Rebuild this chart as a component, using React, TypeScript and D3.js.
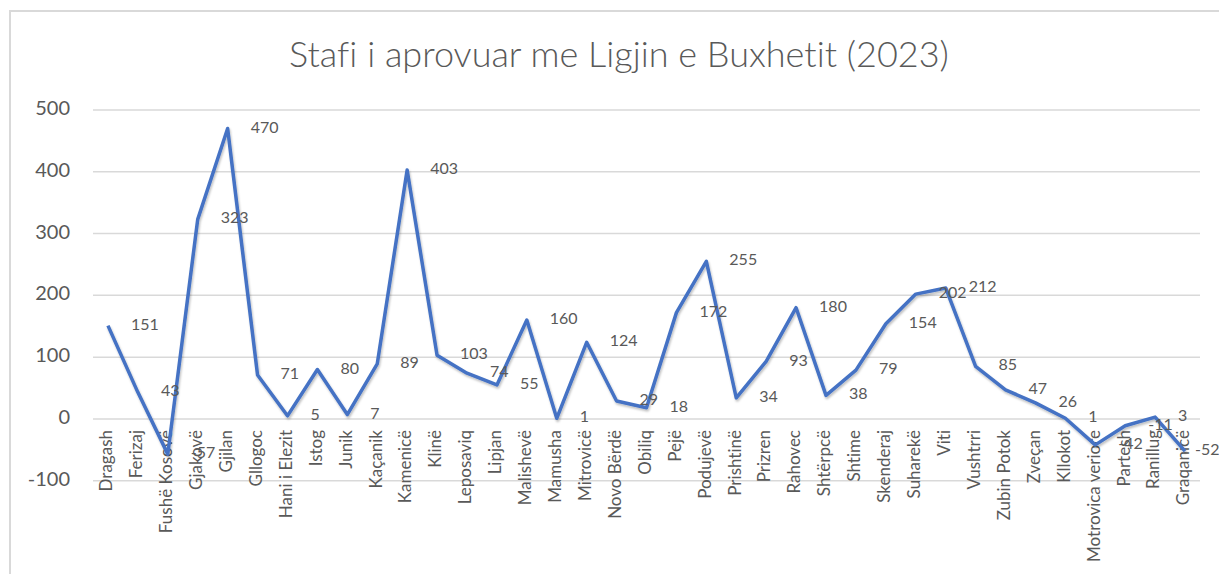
import React from 'react';
import { scaleBand, scaleLinear, line } from 'd3';

const title = 'Stafi i aprovuar me Ligjin e Buxhetit (2023)';

const municipalities = [
  'Dragash', 'Ferizaj', 'Fushë Kosovë', 'Gjakovë', 'Gjilan', 'Gllogoc', 'Hani i Elezit',
  'Istog', 'Junik', 'Kaçanik', 'Kamenicë', 'Klinë', 'Leposaviq', 'Lipjan', 'Malishevë',
  'Mamusha', 'Mitrovicë', 'Novo Bërdë', 'Obiliq', 'Pejë', 'Podujevë', 'Prishtinë', 'Prizren',
  'Rahovec', 'Shtërpcë', 'Shtime', 'Skenderaj', 'Suharekë', 'Viti', 'Vushtrri', 'Zubin Potok',
  'Zveçan', 'Kllokot', 'Motrovica veriore', 'Partesh', 'Ranillug', 'Graqanicë',
];

const staff = [
  151, 43, -57, 323, 470, 71, 5,
  80, 7, 89, 403, 103, 74, 55, 160,
  1, 124, 29, 18, 172, 255, 34, 93,
  180, 38, 79, 154, 202, 212, 85, 47,
  26, 1, -42, -11, 3, -52,
];

const yTicks = [-100, 0, 100, 200, 300, 400, 500];

const W = 1219;
const H = 574;
const textColor = '#595959';
const font = 'Lato, "Open Sans", sans-serif';

export default function App() {
  const x = scaleBand<string>().domain(municipalities).range([93, 1200]);
  const y = scaleLinear().domain([-100, 500]).range([480.7, 110]);
  const cx = (name: string) => (x(name) ?? 0) + x.bandwidth() / 2;

  const path = line<number>()
    .x((_, i) => cx(municipalities[i]))
    .y((d) => y(d))(staff);

  return (
    <svg
      width={W}
      height={H}
      style={{ position: 'absolute', left: 0, top: 0, background: '#fff', fontVariantLigatures: 'none' }}
      fontFamily={font}
    >
      <defs>
        <filter id="shadow" x="-5%" y="-5%" width="110%" height="115%">
          <feDropShadow dx="1" dy="2" stdDeviation="1.2" floodColor="#000" floodOpacity="0.25" />
        </filter>
      </defs>
      <rect x={10} y={11} width={W + 20} height={H + 20} fill="#fff" stroke="#d9d9d9" strokeWidth={2} />

      <text
        x={619}
        y={58}
        textAnchor="middle"
        dominantBaseline="middle"
        fontSize={36}
        fontWeight={300}
        fill={textColor}
      >
        {title}
      </text>

      {yTicks.map((t) => (
        <g key={t}>
          <line x1={93} x2={1200} y1={y(t)} y2={y(t)} stroke="#d9d9d9" strokeWidth={1.5} />
          <text x={70} y={y(t)} textAnchor="end" dominantBaseline="middle" fontSize={20} fill={textColor}>
            {t}
          </text>
        </g>
      ))}

      {municipalities.map((m) => (
        <text
          key={m}
          transform={`translate(${cx(m)},430) rotate(-90)`}
          textAnchor="end"
          dominantBaseline="middle"
          fontSize={17}
          fill={textColor}
        >
          {m}
        </text>
      ))}

      <path d={path ?? ''} fill="none" stroke="#4472C4" strokeWidth={3.5} strokeLinejoin="round" filter="url(#shadow)" />

      {staff.map((v, i) => (
        <text
          key={municipalities[i]}
          x={Math.min(cx(municipalities[i]) + 23, 1195)}
          y={y(v)}
          dominantBaseline="middle"
          fontSize={16}
          fill={textColor}
        >
          {v}
        </text>
      ))}
    </svg>
  );
}
